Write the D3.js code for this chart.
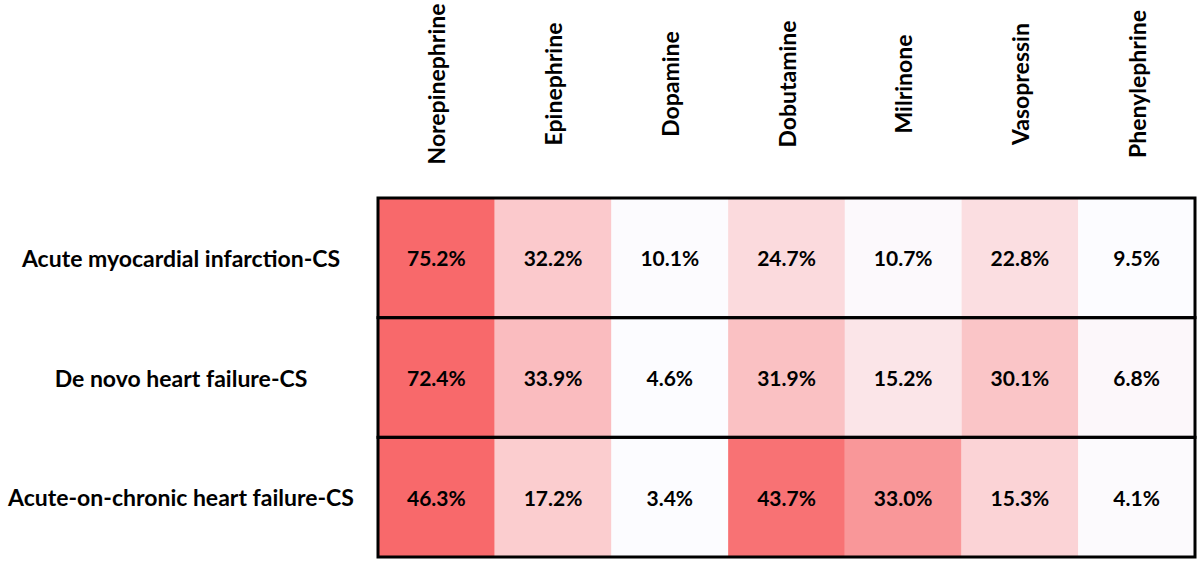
<!DOCTYPE html>
<html>
<head>
<meta charset="utf-8">
<script src="https://cdn.jsdelivr.net/npm/d3@7"></script>
<style>
  body { margin: 0; background: #fff; }
  text { font-family: Lato, "Open Sans", sans-serif; font-weight: bold; fill: #000; }
</style>
</head>
<body>
<div id="chart"></div>
<script>
const drugs = ["Norepinephrine", "Epinephrine", "Dopamine", "Dobutamine", "Milrinone", "Vasopressin", "Phenylephrine"];
const groups = ["Acute myocardial infarction-CS", "De novo heart failure-CS", "Acute-on-chronic heart failure-CS"];
const amiValues = [75.2, 32.2, 10.1, 24.7, 10.7, 22.8, 9.5];
const deNovoValues = [72.4, 33.9, 4.6, 31.9, 15.2, 30.1, 6.8];
const acuteOnChronicValues = [46.3, 17.2, 3.4, 43.7, 33.0, 15.3, 4.1];
const rows = [amiValues, deNovoValues, acuteOnChronicValues];

const width = 1200;
const height = 563;
const margin = { top: 198, right: 5, bottom: 6, left: 378 };

const svg = d3
  .select("#chart")
  .append("svg")
  .attr("width", width)
  .attr("height", height);

const x = d3
  .scaleBand()
  .domain(drugs)
  .range([margin.left, width - margin.right]);

const y = d3
  .scaleBand()
  .domain(groups)
  .range([margin.top, height - margin.bottom]);

// Cells, colour scale per row (white -> red)
rows.forEach((values, r) => {
  const color = d3
    .scaleLinear()
    .domain(d3.extent(values))
    .range(["#FCFCFF", "#F8696B"]);

  const g = svg.append("g");

  g.selectAll("rect")
    .data(values)
    .enter()
    .append("rect")
    .attr("x", (d, i) => x(drugs[i]))
    .attr("y", y(groups[r]))
    .attr("width", x.bandwidth())
    .attr("height", y.bandwidth())
    .attr("fill", (d) => color(d));

  g.selectAll("text")
    .data(values)
    .enter()
    .append("text")
    .attr("x", (d, i) => x(drugs[i]) + x.bandwidth() / 2)
    .attr("y", y(groups[r]) + y.bandwidth() / 2)
    .attr("text-anchor", "middle")
    .attr("dominant-baseline", "central")
    .style("font-size", "21px")
    .text((d) => d.toFixed(1) + "%");
});

// Row borders
svg
  .selectAll("rect.border")
  .data(groups)
  .enter()
  .append("rect")
  .attr("class", "border")
  .attr("x", margin.left)
  .attr("y", (d) => y(d))
  .attr("width", width - margin.left - margin.right)
  .attr("height", y.bandwidth())
  .attr("fill", "none")
  .attr("stroke", "#000")
  .attr("stroke-width", 3);

// Row labels
svg
  .selectAll("text.row-label")
  .data(groups)
  .enter()
  .append("text")
  .attr("class", "row-label")
  .attr("x", 181)
  .attr("y", (d) => y(d) + y.bandwidth() / 2)
  .attr("text-anchor", "middle")
  .attr("dominant-baseline", "central")
  .style("font-size", "23px")
  .text((d) => d);

// Column labels, rotated
svg
  .selectAll("text.col-label")
  .data(drugs)
  .enter()
  .append("text")
  .attr("class", "col-label")
  .attr("transform", (d) => `translate(${x(d) + x.bandwidth() / 2},84) rotate(-90)`)
  .attr("text-anchor", "middle")
  .attr("dominant-baseline", "central")
  .style("font-size", "23px")
  .text((d) => d);
</script>
</body>
</html>
